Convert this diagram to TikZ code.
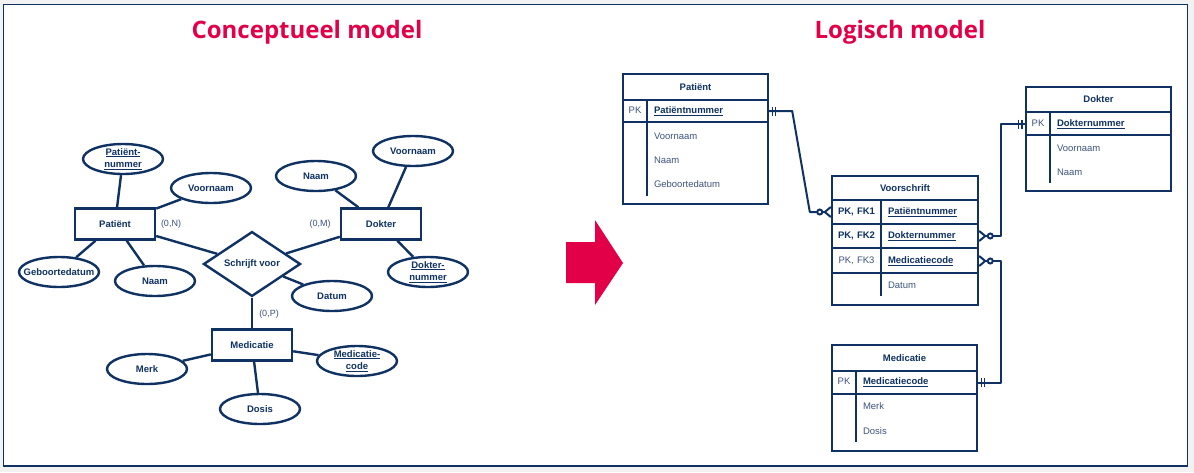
\documentclass[tikz,border=0pt]{standalone}
\usepackage{fontspec}
\setmainfont{Liberation Sans}
\newfontfamily\titlefont{Open Sans}
\usetikzlibrary{shapes.geometric,arrows.meta,decorations.markings}
\definecolor{navy}{RGB}{16,50,98}
\definecolor{softnavy}{RGB}{62,84,122}
\definecolor{crimson}{RGB}{226,0,72}
\definecolor{pagegray}{RGB}{242,242,242}
\newcommand{\erfont}{\bfseries\fontsize{9.5}{12.5}\selectfont}
\newcommand{\keycol}[2]{\makebox[#1][c]{#2}\hspace{7pt}}
\tikzset{
  attr/.style={ellipse, draw=navy, line width=2.4pt, minimum width=80pt,
    minimum height=30pt, inner xsep=-14pt, inner ysep=-6pt, font=\erfont,
    text=navy, align=center},
  entity/.style={rectangle, draw=navy, line width=2.4pt, minimum width=80pt,
    minimum height=31pt, inner sep=0pt, font=\erfont, text=navy},
  relation/.style={diamond, draw=navy, line width=2.4pt, minimum width=97pt,
    minimum height=47pt, inner sep=0pt, font=\erfont, text=navy},
  card/.style={font=\fontsize{9}{10}\selectfont, text=softnavy},
  erline/.style={draw=navy, line width=2.4pt},
  tbl/.style={draw=navy, line width=2.2pt},
  thead/.style={font=\erfont, text=navy},
  field/.style={inner sep=0pt, minimum height=22pt, align=left,
    font=\fontsize{9.5}{11}\selectfont, text=softnavy},
  link/.style={draw=navy, line width=2pt, line join=round},
  onemany/.style={
    -{Circle[open,length=7pt,width=7pt,fill=white]Straight Barb[reversed,length=6pt,width=10pt]},
    postaction={decorate, decoration={markings,
      mark=at position 4pt with {\draw[navy, line width=1.4pt, arrows=-] (0,-4.5pt) -- (0,4.5pt);},
      mark=at position 7.5pt with {\draw[navy, line width=1.4pt, arrows=-] (0,-4.5pt) -- (0,4.5pt);}}}},
  title/.style={font=\titlefont\bfseries\fontsize{24}{28}\selectfont, text=crimson}
}

\begin{document}
\begin{tikzpicture}[x=1pt,y=-1pt]
  \fill[pagegray] (0,0) rectangle (1194,472);
  \draw[navy, line width=1.4pt, fill=white] (3.5,4.5) rectangle (1187.5,466);

  \node[title] (ttlc) at (307,32) {Conceptueel model};
  \node[title] (ttll) at (900,32) {Logisch model};

  % conceptueel model
  \node[entity] (pat) at (115,224) {Patiënt};
  \node[entity] (dok) at (381,224) {Dokter};
  \node[entity] (med) at (252,345) {Medicatie};
  \node[relation] (schr) at (252,264) {Schrijft voor};

  \node[attr] (patnr) at (123,159) {\underline{Patiënt-}\\\underline{nummer}};
  \node[attr] (patvn) at (211,188) {Voornaam};
  \node[attr] (patgd) at (59,272) {Geboortedatum};
  \node[attr] (patnm) at (155,281) {Naam};
  \node[attr] (doknm) at (316,176) {Naam};
  \node[attr] (dokvn) at (413,151) {Voornaam};
  \node[attr] (doknr) at (428,272) {\underline{Dokter-}\\\underline{nummer}};
  \node[attr] (datum) at (332,296) {Datum};
  \node[attr] (merk) at (147,369) {Merk};
  \node[attr] (medcd) at (357,361) {\underline{Medicatie-}\\\underline{code}};
  \node[attr] (dosis) at (260,409) {Dosis};

  \foreach \a/\b in {pat/patnr, pat/patvn, pat/patgd, pat/patnm, pat/schr,
                     dok/doknm, dok/dokvn, dok/doknr, dok/schr, schr/datum,
                     schr/med, med/merk, med/medcd, med/dosis}
    \draw[erline] (\a) -- (\b);

  \node[card] (cn) at (171,224) {(0,N)};
  \node[card] (cm) at (320,224) {(0,M)};
  \node[card] (cp) at (269,314) {(0,P)};

  % pijl
  \fill[crimson] (566,242) -- (595,242) -- (595,220) -- (623,263)
    -- (595,305) -- (595,283) -- (566,283) -- cycle;

  % logisch model: Patiënt
  \draw[tbl] (623,74) rectangle (768,204);
  \draw[tbl] (623,100) -- (768,100) (623,122) -- (768,122) (647,100) -- (647,196);
  \node[thead] (pathd) at (695.5,87) {Patiënt};
  \node[field, text width=145pt] (patpk) at (695.5,111)
    {\keycol{24pt}{PK}\textcolor{navy}{\bfseries\underline{Patiëntnummer}}};
  \node[field, text width=145pt] (patf1) at (695.5,136) {\keycol{24pt}{}Voornaam};
  \node[field, text width=145pt] (patf2) at (695.5,160) {\keycol{24pt}{}Naam};
  \node[field, text width=145pt] (patf3) at (695.5,184) {\keycol{24pt}{}Geboortedatum};

  % Dokter
  \draw[tbl] (1026,87) rectangle (1171,191);
  \draw[tbl] (1026,112) -- (1171,112) (1026,135) -- (1171,135) (1050,112) -- (1050,183);
  \node[thead] (dokhd) at (1098.5,99.5) {Dokter};
  \node[field, text width=145pt] (dokpk) at (1098.5,124)
    {\keycol{24pt}{PK}\textcolor{navy}{\bfseries\underline{Dokternummer}}};
  \node[field, text width=145pt] (dokf1) at (1098.5,148) {\keycol{24pt}{}Voornaam};
  \node[field, text width=145pt] (dokf2) at (1098.5,172) {\keycol{24pt}{}Naam};

  % Voorschrift
  \draw[tbl] (832,176) rectangle (978,305);
  \draw[tbl] (832,200) -- (978,200) (832,224) -- (978,224) (832,248) -- (978,248)
    (832,273) -- (978,273) (881,200) -- (881,296);
  \node[thead] (vshd) at (905,188) {Voorschrift};
  \node[field, text width=146pt] (vfk1) at (905,212)
    {\keycol{49pt}{\textcolor{navy}{\bfseries PK, FK1}}\textcolor{navy}{\bfseries\underline{Patiëntnummer}}};
  \node[field, text width=146pt] (vfk2) at (905,236)
    {\keycol{49pt}{\textcolor{navy}{\bfseries PK, FK2}}\textcolor{navy}{\bfseries\underline{Dokternummer}}};
  \node[field, text width=146pt] (vfk3) at (905,261)
    {\keycol{49pt}{PK, FK3}\textcolor{navy}{\bfseries\underline{Medicatiecode}}};
  \node[field, text width=146pt] (vsf1) at (905,285) {\keycol{49pt}{}Datum};

  % Medicatie
  \draw[tbl] (832,345) rectangle (977,451);
  \draw[tbl] (832,371) -- (977,371) (832,394) -- (977,394) (856,371) -- (856,442);
  \node[thead] (medhd) at (904.5,358) {Medicatie};
  \node[field, text width=145pt] (medpk) at (904.5,382.5)
    {\keycol{24pt}{PK}\textcolor{navy}{\bfseries\underline{Medicatiecode}}};
  \node[field, text width=145pt] (medf1) at (904.5,406) {\keycol{24pt}{}Merk};
  \node[field, text width=145pt] (medf2) at (904.5,431) {\keycol{24pt}{}Dosis};

  % relaties
  \draw[link, onemany] (patpk.east) -- ++(24,0) -- ([xshift=-22pt]vfk1.west) -- (vfk1.west);
  \draw[link, onemany] (dokpk.west) -- ++(-25,0) |- (vfk2.east);
  \draw[link, onemany] (medpk.east) -- ++(24,0) |- (vfk3.east);
\end{tikzpicture}
\end{document}
